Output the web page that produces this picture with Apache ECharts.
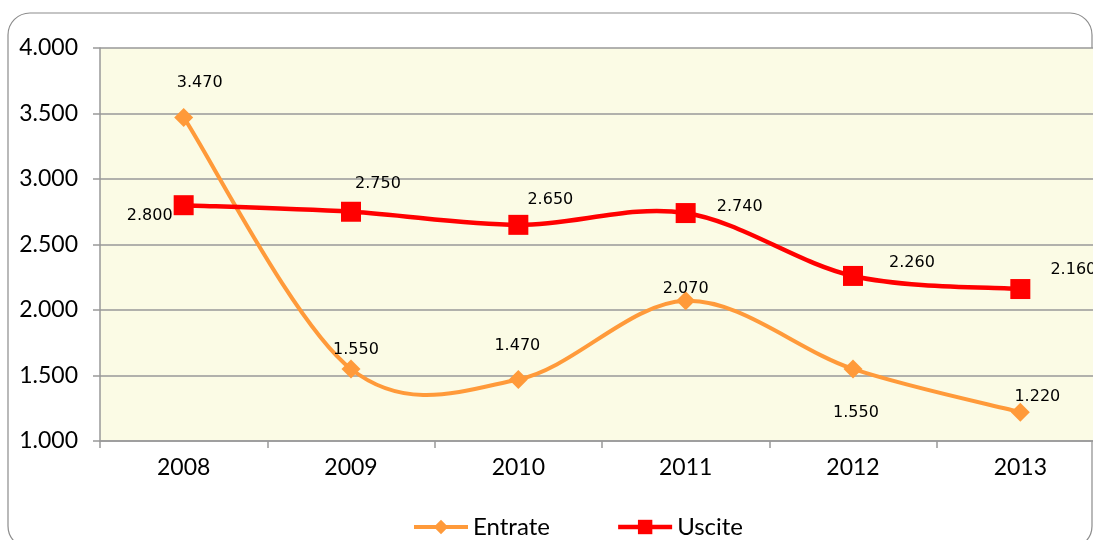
<!DOCTYPE html>
<html>
<head>
<meta charset="utf-8">
<script src="https://cdn.jsdelivr.net/npm/echarts@6/dist/echarts.min.js"></script>
<style>html,body{margin:0;padding:0;background:#fff;overflow:hidden;}#c{width:1110px;height:540px;}</style>
</head>
<body>
<div id="c"></div>
<script>
const categories = ['2008', '2009', '2010', '2011', '2012', '2013'];
const entrate = [3470, 1550, 1470, 2070, 1550, 1220];
const uscite = [2800, 2750, 2650, 2740, 2260, 2160];
const yTicks = { min: 1000, max: 4000, interval: 500 };
const entrateLabelOffsets = [[16, -35], [5, -19], [-1, -34], [0, -12], [3, 44], [17, -15]];
const usciteLabelOffsets = [[-34, 11], [27, -28], [32, -25], [54, -6], [59, -13], [53, -19]];

const ORANGE = '#FF9A3A';
const RED = '#FF0000';

function fmt(v) {
  return String(v).replace(/\B(?=(\d{3})+(?!\d))/g, '.');
}

function buildData(values, offsets) {
  return values.map((v, i) => ({
    value: v,
    label: { offset: offsets[i] }
  }));
}

// Excel-style smoothed segment (Catmull-Rom → cubic Bezier), drawn through the axes
function smoothSegment(values, color, width) {
  return function (params, api) {
    const i = params.dataIndex;
    if (i >= values.length - 1) return null;
    const n = values.length;
    const P = k => { const j = Math.max(0, Math.min(n - 1, k)); return api.coord([j, values[j]]); };
    const p0 = P(i - 1), p1 = P(i), p2 = P(i + 1), p3 = P(i + 2);
    const cp1 = [p1[0] + (p2[0] - p0[0]) / 6, p1[1] + (p2[1] - p0[1]) / 6];
    const cp2 = [p2[0] - (p3[0] - p1[0]) / 6, p2[1] - (p3[1] - p1[1]) / 6];
    return {
      type: 'bezierCurve',
      shape: { x1: p1[0], y1: p1[1], cpx1: cp1[0], cpy1: cp1[1], cpx2: cp2[0], cpy2: cp2[1], x2: p2[0], y2: p2[1] },
      style: { stroke: color, lineWidth: width, fill: null, lineCap: 'round' }
    };
  };
}

const chart = echarts.init(document.getElementById('c'), null, { renderer: 'canvas' });
const labelFont = 'DejaVu Sans';
const axisFont = 'Lato';

chart.setOption({
  backgroundColor: '#ffffff',
  animation: false,
  graphic: [{
    type: 'rect',
    shape: { x: 8, y: 13, width: 1084, height: 535, r: 22 },
    style: { fill: 'none', stroke: '#8c8c8c', lineWidth: 1.2 },
    z: -10
  }],
  grid: { left: 100, top: 48, width: 1004, height: 393, containLabel: false,
          show: true, backgroundColor: '#FBFBE5', borderWidth: 0 },
  legend: {
    bottom: -4,
    left: 407,
    itemWidth: 54,
    itemHeight: 18,
    itemGap: 66,
    textStyle: { fontFamily: axisFont, fontSize: 24, color: '#000' },
    data: [
      { name: 'Entrate', lineStyle: { color: ORANGE, width: 4, opacity: 1 } },
      { name: 'Uscite', lineStyle: { color: RED, width: 4.5, opacity: 1 } }
    ]
  },
  xAxis: {
    type: 'category',
    data: categories,
    boundaryGap: true,
    axisLine: { show: true, lineStyle: { color: '#999', width: 1.5 } },
    axisTick: { show: true, length: 7, lineStyle: { color: '#999', width: 1.5 } },
    axisLabel: { fontFamily: axisFont, fontSize: 23, color: '#000', margin: 15 }
  },
  yAxis: {
    type: 'value',
    min: yTicks.min, max: yTicks.max, interval: yTicks.interval,
    axisLine: { show: true, lineStyle: { color: '#999', width: 1.5 } },
    axisTick: { show: true, length: 7, lineStyle: { color: '#999', width: 1.5 } },
    splitLine: { show: true, lineStyle: { color: '#999', width: 1.5 } },
    axisLabel: { fontFamily: axisFont, fontSize: 23, color: '#000', margin: 22,
                 formatter: v => fmt(v) }
  },
  series: [
    {
      name: 'Entrate-curve',
      type: 'custom',
      data: entrate,
      renderItem: smoothSegment(entrate, ORANGE, 4),
      z: 1,
      silent: true
    },
    {
      name: 'Entrate',
      type: 'line',
      data: buildData(entrate, entrateLabelOffsets),
      symbol: 'diamond',
      symbolSize: 19,
      color: ORANGE,
      lineStyle: { color: ORANGE, width: 4, opacity: 0 },
      itemStyle: { color: ORANGE },
      label: {
        show: true, position: 'inside', fontFamily: labelFont, fontSize: 16, color: '#000',
        align: 'center', verticalAlign: 'middle',
        formatter: p => fmt(p.value)
      },
      z: 2
    },
    {
      name: 'Uscite-curve',
      type: 'custom',
      data: uscite,
      renderItem: smoothSegment(uscite, RED, 4.5),
      z: 3,
      silent: true
    },
    {
      name: 'Uscite',
      type: 'line',
      data: buildData(uscite, usciteLabelOffsets),
      symbol: 'rect',
      symbolSize: 20,
      color: RED,
      lineStyle: { color: RED, width: 4.5, opacity: 0 },
      itemStyle: { color: RED },
      label: {
        show: true, position: 'inside', fontFamily: labelFont, fontSize: 16, color: '#000',
        align: 'center', verticalAlign: 'middle',
        formatter: p => fmt(p.value)
      },
      z: 4
    }
  ]
});
</script>
</body>
</html>
